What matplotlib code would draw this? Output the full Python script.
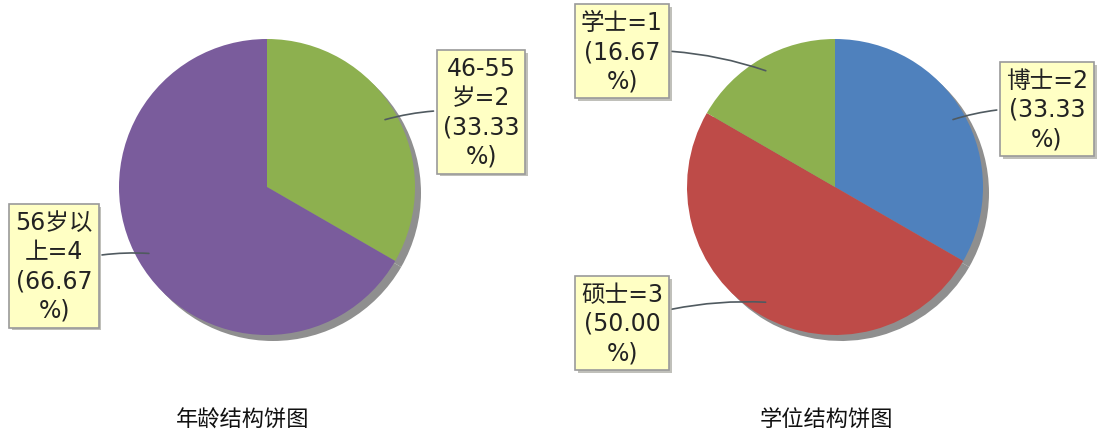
import matplotlib
matplotlib.use("Agg")
import matplotlib.pyplot as plt
import matplotlib.patheffects as pe
import numpy as np

plt.rcParams["font.family"] = ["DejaVu Sans", "Noto Sans CJK SC"]

# 数据
age_labels = ["46-55\n岁=2", "56岁以\n上=4"]
age_values = [2, 4]
age_colors = ["#8DB04F", "#7A5C9C"]

degree_labels = ["博士=2", "硕士=3", "学士=1"]
degree_values = [2, 3, 1]
degree_colors = ["#4F81BD", "#BE4B48", "#8DB04F"]

titles = ["年龄结构饼图", "学位结构饼图"]

# 版面 (像素, y 向上)
W, H = 1097, 439
R = 148
centers = [(267, 251), (835, 251)]
age_box_pos = [(481, 326), (54, 172)]
degree_box_pos = [(1047, 329), (622, 115), (622, 387)]
title_pos = [(243, 19), (826, 19)]

fig = plt.figure(figsize=(W / 100, H / 100), dpi=100)
ax = fig.add_axes([0, 0, 1, 1])


def draw_pie(values, labels, colors, center, box_pos):
    total = sum(values)
    # 阴影
    ax.pie(values, center=(center[0] + 6, center[1] - 6), radius=R,
           colors=["#8f8f8f"] * len(values), startangle=90,
           counterclock=False, frame=True, wedgeprops=dict(linewidth=0))
    wedges, _ = ax.pie(values, center=center, radius=R, colors=colors,
                       startangle=90, counterclock=False, frame=True,
                       wedgeprops=dict(linewidth=0))
    for w, v, lab, pos in zip(wedges, values, labels, box_pos):
        mid = np.deg2rad((w.theta1 + w.theta2) / 2)
        px = center[0] + 0.9 * R * np.cos(mid)
        py = center[1] + 0.9 * R * np.sin(mid)
        pct = v / total * 100
        txt = f"{lab}\n({pct:.2f}\n%)"
        rad = 0.1 if pos[0] > center[0] else -0.1
        t = ax.annotate(txt, xy=(px, py), xytext=pos, ha="center",
                        va="center", multialignment="center", fontsize=17,
                        linespacing=1.27, color="#222222",
                        bbox=dict(boxstyle="square,pad=0.25", fc="#FFFFC4",
                                  ec="#9a9a9a", lw=1.2),
                        arrowprops=dict(arrowstyle="-", color="#505a60",
                                        lw=1.2,
                                        connectionstyle=f"arc3,rad={rad}"))
        t.get_bbox_patch().set_path_effects(
            [pe.SimplePatchShadow(offset=(2, -2), alpha=0.35), pe.Normal()])


draw_pie(age_values, age_labels, age_colors, centers[0], age_box_pos)
draw_pie(degree_values, degree_labels, degree_colors, centers[1],
         degree_box_pos)

for title, pos in zip(titles, title_pos):
    ax.text(pos[0], pos[1], title, ha="center", va="center", fontsize=16,
            family=["Noto Sans CJK SC"], color="#111111")

ax.set_xlim(0, W)
ax.set_ylim(0, H)
ax.set_aspect("equal")
ax.axis("off")

fig.savefig("out.png", dpi=100)
